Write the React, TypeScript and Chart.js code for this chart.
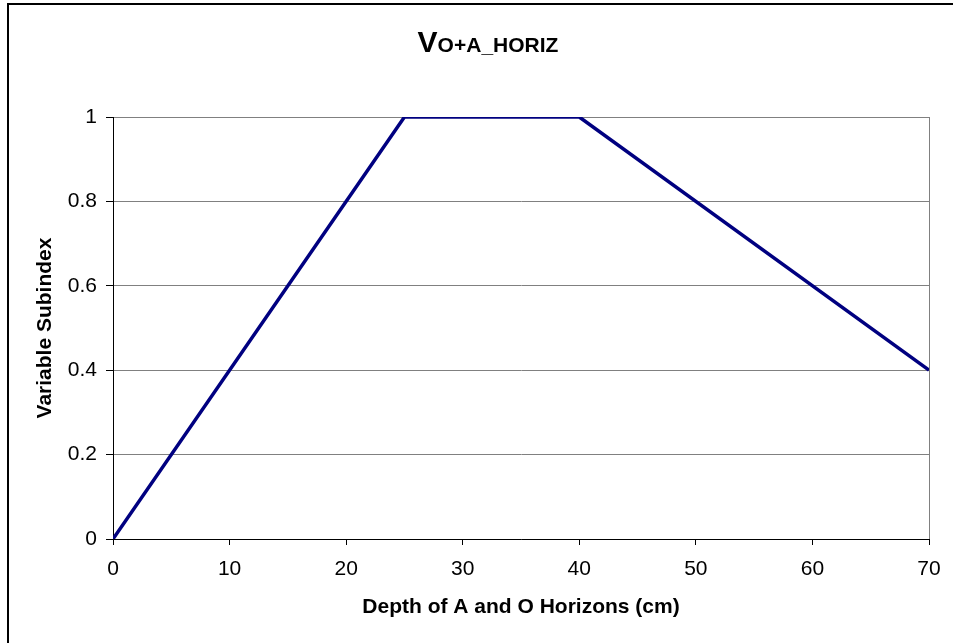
import React, { useEffect, useRef } from "react";
import { Chart, registerables } from "chart.js";

Chart.register(...registerables);

const depthCm = [0, 25, 40, 70];
const subindex = [0, 1, 1, 0.4];
const titleMain = "V";
const titleSub = "O+A_HORIZ";
const xTitle = "Depth of A and O Horizons (cm)";
const yTitle = "Variable Subindex";

const FONT = "'Liberation Sans', Arial, sans-serif";

export default function App() {
  const ref = useRef<HTMLCanvasElement | null>(null);

  useEffect(() => {
    const canvas = ref.current;
    if (!canvas) return;

    const deco = {
      id: "deco",
      beforeDraw(chart: any) {
        const ctx = chart.ctx;
        ctx.save();
        ctx.fillStyle = "#fff";
        ctx.fillRect(0, 0, chart.width, chart.height);
        ctx.restore();
      },
      afterDraw(chart: any) {
        const ctx = chart.ctx;
        const a = chart.chartArea;
        ctx.save();
        // outer border (top & left visible)
        ctx.strokeStyle = "#000";
        ctx.lineWidth = 2;
        ctx.beginPath();
        ctx.moveTo(8, chart.height + 5);
        ctx.lineTo(8, 4);
        ctx.lineTo(chart.width + 5, 4);
        ctx.stroke();
        // plot area right border
        ctx.strokeStyle = "#808080";
        ctx.lineWidth = 1;
        ctx.beginPath();
        ctx.moveTo(Math.round(a.right) + 0.5, a.top);
        ctx.lineTo(Math.round(a.right) + 0.5, a.bottom);
        ctx.stroke();
        // title
        ctx.fillStyle = "#000";
        ctx.textBaseline = "alphabetic";
        ctx.textAlign = "left";
        ctx.font = `bold 30px ${FONT}`;
        const wMain = ctx.measureText(titleMain).width;
        ctx.font = `bold 21px ${FONT}`;
        const wSub = ctx.measureText(titleSub).width;
        const total = wMain + wSub;
        const x0 = 488 - total / 2;
        ctx.font = `bold 30px ${FONT}`;
        ctx.fillText(titleMain, x0, 52);
        ctx.font = `bold 21px ${FONT}`;
        ctx.fillText(titleSub, x0 + wMain, 52);
        // x title
        ctx.font = `bold 21px ${FONT}`;
        ctx.textAlign = "center";
        ctx.textBaseline = "middle";
        ctx.fillText(xTitle, (a.left + a.right) / 2, 607);
        // y title
        ctx.translate(45, (a.top + a.bottom) / 2);
        ctx.rotate(-Math.PI / 2);
        ctx.fillText(yTitle, 0, 0);
        ctx.restore();
      },
    };

    const chart = new Chart(canvas, {
      type: "line",
      data: {
        datasets: [
          {
            data: depthCm.map((x, i) => ({ x, y: subindex[i] })),
            borderColor: "#000080",
            borderWidth: 3.5,
            pointRadius: 0,
            fill: false,
            tension: 0,
          },
        ],
      },
      options: {
        animation: false,
        responsive: false,
        maintainAspectRatio: false,
        devicePixelRatio: 1,
        layout: { padding: { top: 117, right: 24, left: 0, bottom: 0 } },
        plugins: { legend: { display: false }, tooltip: { enabled: false }, title: { display: false } },
        scales: {
          x: {
            type: "linear",
            min: 0,
            max: 70,
            afterFit(s: any) {
              s.height = 104;
            },
            ticks: {
              stepSize: 10,
              color: "#000",
              font: { family: FONT, size: 21 },
              padding: 12,
            },
            grid: { drawOnChartArea: false, color: "#000", tickColor: "#000", tickLength: 6 },
            border: { color: "#000", width: 1 },
          },
          y: {
            min: 0,
            max: 1,
            afterFit(s: any) {
              s.width = 113;
            },
            ticks: {
              stepSize: 0.2,
              color: "#000",
              font: { family: FONT, size: 21 },
              padding: 9,
              callback: (v: any) => String(Math.round(Number(v) * 10) / 10),
            },
            grid: { color: "#808080", tickColor: "#000", tickLength: 7 },
            border: { color: "#000", width: 1 },
          },
        },
      },
      plugins: [deco],
    });
    return () => chart.destroy();
  }, []);

  return (
    <div style={{ position: "fixed", left: 0, top: 0, width: 953, height: 643, overflow: "hidden" }}>
      <canvas ref={ref} width={953} height={643} style={{ display: "block" }} />
    </div>
  );
}
